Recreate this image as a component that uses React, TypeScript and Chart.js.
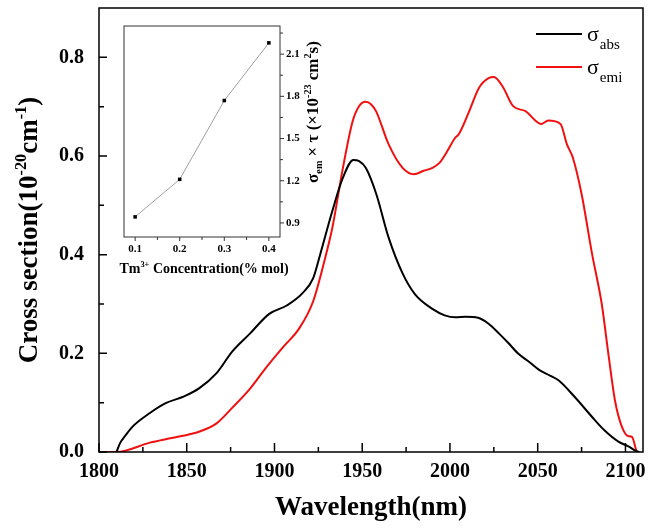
import { useEffect, useRef } from 'react';
import { Chart, registerables } from 'chart.js';
Chart.register(...registerables);

// ---- main chart data ----
const ABS_WL = [1810, 1812, 1815, 1819, 1829, 1838, 1848, 1857, 1867, 1876, 1886, 1897, 1907, 1916, 1922, 1926, 1933, 1939, 1945, 1948, 1952, 1958, 1965, 1973, 1980, 1990, 1997, 2003, 2009, 2016, 2022, 2028, 2033, 2039, 2045, 2051, 2057, 2062, 2071, 2081, 2088, 2096, 2102, 2106, 2108];
const ABS_VAL = [0, 0.018, 0.033, 0.051, 0.079, 0.099, 0.112, 0.129, 0.16, 0.204, 0.24, 0.28, 0.297, 0.322, 0.352, 0.4, 0.489, 0.556, 0.592, 0.59, 0.576, 0.523, 0.435, 0.362, 0.32, 0.29, 0.277, 0.273, 0.274, 0.272, 0.26, 0.24, 0.222, 0.199, 0.183, 0.166, 0.155, 0.145, 0.112, 0.071, 0.044, 0.021, 0.011, 0.002, 0];

const EMI_WL = [1800, 1810, 1829, 1838, 1848, 1857, 1867, 1876, 1886, 1895, 1905, 1914, 1922, 1929, 1933, 1939, 1944.5, 1948, 1952, 1955, 1958, 1965, 1973, 1979.5, 1985, 1990, 1994, 1997.5, 2003, 2005, 2011, 2016.5, 2022, 2025, 2030, 2036, 2043, 2052, 2056, 2063, 2066.6, 2070, 2075, 2081, 2086.5, 2090, 2094, 2098, 2101.7, 2103.6, 2106.4];
const EMI_VAL = [0, 0, 0.019, 0.026, 0.033, 0.041, 0.058, 0.09, 0.128, 0.17, 0.213, 0.25, 0.305, 0.395, 0.455, 0.576, 0.67, 0.7, 0.71, 0.705, 0.69, 0.624, 0.576, 0.563, 0.57, 0.576, 0.586, 0.604, 0.637, 0.644, 0.691, 0.738, 0.758, 0.76, 0.741, 0.701, 0.691, 0.665, 0.672, 0.665, 0.624, 0.597, 0.523, 0.401, 0.3, 0.206, 0.105, 0.051, 0.032, 0.031, 0];

const X_TICKS = [1800, 1850, 1900, 1950, 2000, 2050, 2100];
const X_MINOR = [1825, 1875, 1925, 1975, 2025, 2075];
const Y_TICKS = [0, 0.2, 0.4, 0.6, 0.8];
const Y_MINOR = [0.1, 0.3, 0.5, 0.7];

// ---- inset data ----
const INSET_CONC = [0.1, 0.2, 0.3, 0.4];
const INSET_VAL = [0.943, 1.21, 1.77, 2.18];
const INSET_X_TICKS = [0.1, 0.2, 0.3, 0.4];
const INSET_X_MINOR = [0.15, 0.25, 0.35];
const INSET_Y_TICKS = [0.9, 1.2, 1.5, 1.8, 2.1];
const INSET_Y_MINOR = [1.05, 1.35, 1.65, 1.95, 2.25];

const SERIF = '"Liberation Serif", "Times New Roman", serif';
const RED = '#f01010';

type Seg = { t: string; s?: 'sup' | 'sub' };

function richWidth(ctx: CanvasRenderingContext2D, segs: Seg[], size: number, bold: boolean) {
  let w = 0;
  for (const sg of segs) {
    const sz = sg.s ? size * 0.6 : size;
    ctx.font = `${bold ? 'bold ' : ''}${sz}px ${SERIF}`;
    w += ctx.measureText(sg.t).width;
  }
  return w;
}

function drawRich(ctx: CanvasRenderingContext2D, segs: Seg[], x: number, y: number, size: number, bold: boolean, align: 'center' | 'left') {
  const w = richWidth(ctx, segs, size, bold);
  let cx = align === 'center' ? x - w / 2 : x;
  ctx.textAlign = 'left';
  ctx.textBaseline = 'alphabetic';
  for (const sg of segs) {
    const sz = sg.s ? size * 0.6 : size;
    ctx.font = `${bold ? 'bold ' : ''}${sz}px ${SERIF}`;
    const dy = sg.s === 'sup' ? -size * 0.4 : sg.s === 'sub' ? size * 0.25 : 0;
    ctx.fillText(sg.t, cx, y + dy);
    cx += ctx.measureText(sg.t).width;
  }
}

const zeroPad = (s: any) => {
  s.paddingTop = 0;
  s.paddingBottom = 0;
  s.paddingLeft = 0;
  s.paddingRight = 0;
};

const mainDecor = {
  id: 'mainDecor',
  afterDraw(chart: any) {
    const ctx: CanvasRenderingContext2D = chart.ctx;
    const { left, right, top, bottom } = chart.chartArea;
    const xs = chart.scales.x;
    const ys = chart.scales.y;
    ctx.save();
    ctx.strokeStyle = '#000';
    ctx.fillStyle = '#000';
    ctx.lineWidth = 1.5;
    ctx.strokeRect(left, top, right - left, bottom - top);
    ctx.beginPath();
    for (const v of X_TICKS) { const px = xs.getPixelForValue(v); ctx.moveTo(px, bottom); ctx.lineTo(px, bottom - 9); }
    for (const v of X_MINOR) { const px = xs.getPixelForValue(v); ctx.moveTo(px, bottom); ctx.lineTo(px, bottom - 5); }
    for (const v of Y_TICKS) { const py = ys.getPixelForValue(v); ctx.moveTo(left, py); ctx.lineTo(left + 8, py); }
    for (const v of Y_MINOR) { const py = ys.getPixelForValue(v); ctx.moveTo(left, py); ctx.lineTo(left + 5, py); }
    ctx.stroke();

    // axis titles
    drawRich(ctx, [{ t: 'Wavelength(nm)' }], (left + right) / 2, 515, 27, true, 'center');
    ctx.save();
    ctx.translate(28, (top + bottom) / 2);
    ctx.rotate(-Math.PI / 2);
    drawRich(ctx, [{ t: 'Cross section(10' }, { t: '-20', s: 'sup' }, { t: 'cm' }, { t: '-1', s: 'sup' }, { t: ')' }], 0, 9, 27, true, 'center');
    ctx.restore();

    // legend
    const items = [
      { color: chart.data.datasets[0].borderColor, sub: 'abs', y: 34 },
      { color: chart.data.datasets[1].borderColor, sub: 'emi', y: 67 },
    ];
    for (const it of items) {
      ctx.strokeStyle = it.color;
      ctx.lineWidth = 2;
      ctx.beginPath();
      ctx.moveTo(536, it.y);
      ctx.lineTo(582, it.y);
      ctx.stroke();
      ctx.fillStyle = '#000';
      ctx.font = `22px ${SERIF}`;
      ctx.textAlign = 'left';
      ctx.textBaseline = 'alphabetic';
      ctx.fillText('σ', 587, it.y + 7);
      const w = ctx.measureText('σ').width;
      ctx.font = `15px ${SERIF}`;
      ctx.fillText(it.sub, 587 + w + 1, it.y + 15);
    }
    ctx.restore();
  },
};

const insetDecor = {
  id: 'insetDecor',
  afterDraw(chart: any) {
    const ctx: CanvasRenderingContext2D = chart.ctx;
    const { left, right, top, bottom } = chart.chartArea;
    const xs = chart.scales.x;
    const ys = chart.scales.y;
    ctx.save();
    ctx.strokeStyle = '#333';
    ctx.fillStyle = '#000';
    ctx.lineWidth = 1;
    ctx.strokeRect(left, top, right - left, bottom - top);
    ctx.beginPath();
    for (const v of INSET_X_TICKS) { const px = xs.getPixelForValue(v); ctx.moveTo(px, bottom); ctx.lineTo(px, bottom + 4); }
    for (const v of INSET_X_MINOR) { const px = xs.getPixelForValue(v); ctx.moveTo(px, bottom); ctx.lineTo(px, bottom + 3); }
    for (const v of INSET_Y_TICKS) { const py = ys.getPixelForValue(v); ctx.moveTo(right, py); ctx.lineTo(right + 4, py); }
    for (const v of INSET_Y_MINOR) { const py = ys.getPixelForValue(v); ctx.moveTo(right, py); ctx.lineTo(right + 3, py); }
    ctx.stroke();

    drawRich(ctx, [{ t: 'Tm' }, { t: '3+', s: 'sup' }, { t: ' Concentration(% mol)' }], (left + right) / 2 + 2, 253, 14, true, 'center');
    ctx.save();
    ctx.translate(232, 92);
    ctx.rotate(-Math.PI / 2);
    drawRich(ctx, [{ t: 'σ' }, { t: 'em', s: 'sub' }, { t: ' × τ (×10' }, { t: '-23', s: 'sup' }, { t: ' cm' }, { t: '2', s: 'sup' }, { t: 's)' }], 0, 6, 17, true, 'center');
    ctx.restore();
    ctx.restore();
  },
};

export default function App() {
  const mainRef = useRef<HTMLCanvasElement>(null);
  const insetRef = useRef<HTMLCanvasElement>(null);

  useEffect(() => {
    document.body.style.margin = '0';
    const tickFont = { family: SERIF, size: 20, weight: 'bold' as const };
    const main = new Chart(mainRef.current!, {
      type: 'line',
      data: {
        datasets: [
          {
            label: 'σabs',
            data: ABS_WL.map((x, i) => ({ x, y: ABS_VAL[i] })),
            borderColor: '#000',
            borderWidth: 2,
            pointRadius: 0,
            cubicInterpolationMode: 'monotone',
          },
          {
            label: 'σemi',
            data: EMI_WL.map((x, i) => ({ x, y: EMI_VAL[i] })),
            borderColor: RED,
            borderWidth: 2,
            pointRadius: 0,
            cubicInterpolationMode: 'monotone',
          },
        ],
      },
      options: {
        responsive: false,
        animation: false,
        layout: { padding: { left: 0, top: 8, right: 13, bottom: 0 } },
        plugins: { legend: { display: false }, tooltip: { enabled: false } },
        scales: {
          x: {
            type: 'linear',
            min: 1800,
            max: 2110,
            afterBuildTicks: (s: any) => { s.ticks = X_TICKS.map((v) => ({ value: v })); },
            afterFit: (s: any) => { s.height = 77; zeroPad(s); },
            grid: { display: false, drawTicks: false },
            border: { display: false },
            ticks: { font: tickFont, color: '#000', padding: 8, maxRotation: 0, autoSkip: false, callback: (v: any) => String(v) },
          },
          y: {
            type: 'linear',
            min: 0,
            max: 0.9,
            afterBuildTicks: (s: any) => { s.ticks = Y_TICKS.map((v) => ({ value: v })); },
            afterFit: (s: any) => { s.width = 99; zeroPad(s); },
            grid: { display: false, drawTicks: false },
            border: { display: false },
            ticks: { font: tickFont, color: '#000', padding: 15, autoSkip: false, callback: (v: any) => Number(v).toFixed(1) },
          },
        },
      },
      plugins: [mainDecor],
    } as any);

    const insetFont = { family: SERIF, size: 11, weight: 'bold' as const };
    const inset = new Chart(insetRef.current!, {
      type: 'line',
      data: {
        datasets: [
          {
            data: INSET_CONC.map((x, i) => ({ x, y: INSET_VAL[i] })),
            borderColor: '#a0a0a0',
            borderWidth: 1,
            pointStyle: 'rect',
            pointRadius: 2.5,
            pointBackgroundColor: '#000',
            pointBorderColor: '#000',
            pointBorderWidth: 0,
            tension: 0,
          },
        ],
      },
      options: {
        responsive: false,
        animation: false,
        layout: { padding: { left: 44, top: 6, right: 0, bottom: 0 } },
        plugins: { legend: { display: false }, tooltip: { enabled: false } },
        scales: {
          x: {
            type: 'linear',
            min: 0.075,
            max: 0.425,
            afterBuildTicks: (s: any) => { s.ticks = INSET_X_TICKS.map((v) => ({ value: v })); },
            afterFit: (s: any) => { s.height = 48; zeroPad(s); },
            grid: { display: false, drawTicks: false },
            border: { display: false },
            ticks: { font: insetFont, color: '#000', padding: 6, maxRotation: 0, autoSkip: false, callback: (v: any) => Number(v).toFixed(1) },
          },
          y: {
            type: 'linear',
            position: 'right',
            min: 0.8,
            max: 2.3,
            afterBuildTicks: (s: any) => { s.ticks = INSET_Y_TICKS.map((v) => ({ value: v })); },
            afterFit: (s: any) => { s.width = 65; zeroPad(s); },
            grid: { display: false, drawTicks: false },
            border: { display: false },
            ticks: { font: insetFont, color: '#000', padding: 6, autoSkip: false, callback: (v: any) => Number(v).toFixed(1) },
          },
        },
      },
      plugins: [insetDecor],
    } as any);

    return () => {
      main.destroy();
      inset.destroy();
    };
  }, []);

  return (
    <div style={{ position: 'relative', width: 656, height: 529, background: '#fff' }}>
      <canvas ref={mainRef} width={656} height={529} style={{ position: 'absolute', left: 0, top: 0, width: 656, height: 529 }} />
      <canvas ref={insetRef} width={265} height={265} style={{ position: 'absolute', left: 80, top: 20, width: 265, height: 265 }} />
    </div>
  );
}
